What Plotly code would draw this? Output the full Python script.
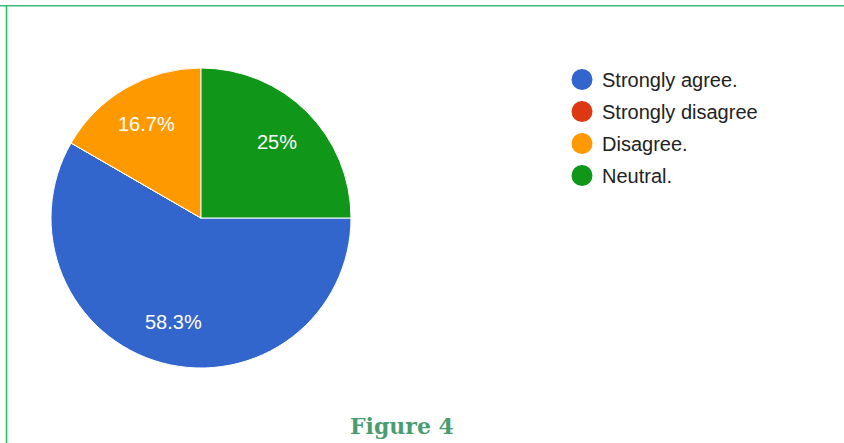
import math
import plotly.graph_objects as go

# Survey responses (counts) and their display colours
categories = ["Strongly agree.", "Strongly disagree", "Disagree.", "Neutral."]
responses = [7, 0, 2, 3]
colors = ["#3366cc", "#dc3912", "#ff9900", "#109618"]
caption = "Figure 4"

W, H = 844, 443
# pie geometry in pixels: centre and radius
CX, CY, R = 201, 218, 150
START_DEG = 90          # first slice begins at 3 o'clock
LABEL_FRAC = 0.72       # label distance from centre, as fraction of radius

fig = go.Figure()

total = sum(responses)
def pct_label(v):
    return f"{100 * v / total:.3g}%"

fig.add_trace(go.Pie(
    labels=categories,
    values=responses,
    textinfo="none",
    sort=False,
    direction="clockwise",
    rotation=START_DEG,
    marker=dict(colors=colors, line=dict(color="#ffffff", width=1)),
    hoverinfo="label+percent",
    showlegend=False,
    domain=dict(x=[(CX - R) / W, (CX + R) / W], y=[(H - CY - R) / H, (H - CY + R) / H]),
))

# Percentage labels placed at each slice's mid-angle
annotations = []
cum = 0
for v in responses:
    if v > 0:
        mid = START_DEG + 360 * (cum + v / 2) / total
        a = math.radians(mid)
        px = CX + LABEL_FRAC * R * math.sin(a)
        py = CY - LABEL_FRAC * R * math.cos(a)
        annotations.append(dict(
            text=pct_label(v), xref="paper", yref="paper", x=px / W, y=1 - py / H,
            xanchor="center", yanchor="middle", showarrow=False,
            font=dict(family="Liberation Sans, Arial, sans-serif", size=20, color="#ffffff"),
        ))
    cum += v

annotations.append(dict(
    text=caption, xref="paper", yref="paper", x=402 / W, y=(H - 426) / H,
    xanchor="center", yanchor="middle", showarrow=False,
    font=dict(family="DejaVu Serif, serif", size=22, color="#4a9d72", weight="bold"),
))

# Circular legend entries, one per category
for i, (cat, col) in enumerate(zip(categories, colors)):
    fig.add_trace(go.Scatter(
        x=[None], y=[None], mode="markers", name=cat,
        legendgroup=f"g{i}",
        marker=dict(symbol="circle", size=16, color=col, line=dict(color=col, width=5)),
    ))

fig.update_layout(
    width=W, height=H,
    margin=dict(l=0, r=0, t=0, b=0),
    paper_bgcolor="#ffffff",
    plot_bgcolor="#ffffff",
    xaxis=dict(visible=False),
    yaxis=dict(visible=False),
    legend=dict(
        x=562 / W, y=1 - 60 / H, xanchor="left", yanchor="top",
        font=dict(family="Liberation Sans, Arial, sans-serif", size=20, color="#222222"),
        tracegroupgap=3,
        bgcolor="rgba(0,0,0,0)",
        borderwidth=0,
    ),
    shapes=[
        # frame lines along the top and left edges
        dict(type="line", xref="paper", yref="paper", x0=0, x1=1,
             y0=1 - 5.5 / H, y1=1 - 5.5 / H, line=dict(color="#3cb878", width=1)),
        dict(type="line", xref="paper", yref="paper", x0=0, x1=1,
             y0=1 - 6.5 / H, y1=1 - 6.5 / H, line=dict(color="#9ee0bb", width=1)),
        dict(type="line", xref="paper", yref="paper", x0=6.5 / W, x1=6.5 / W,
             y0=0, y1=1 - 5 / H, line=dict(color="#22c05e", width=1.5)),
    ],
    annotations=annotations,
)

fig.write_html("out.html")
